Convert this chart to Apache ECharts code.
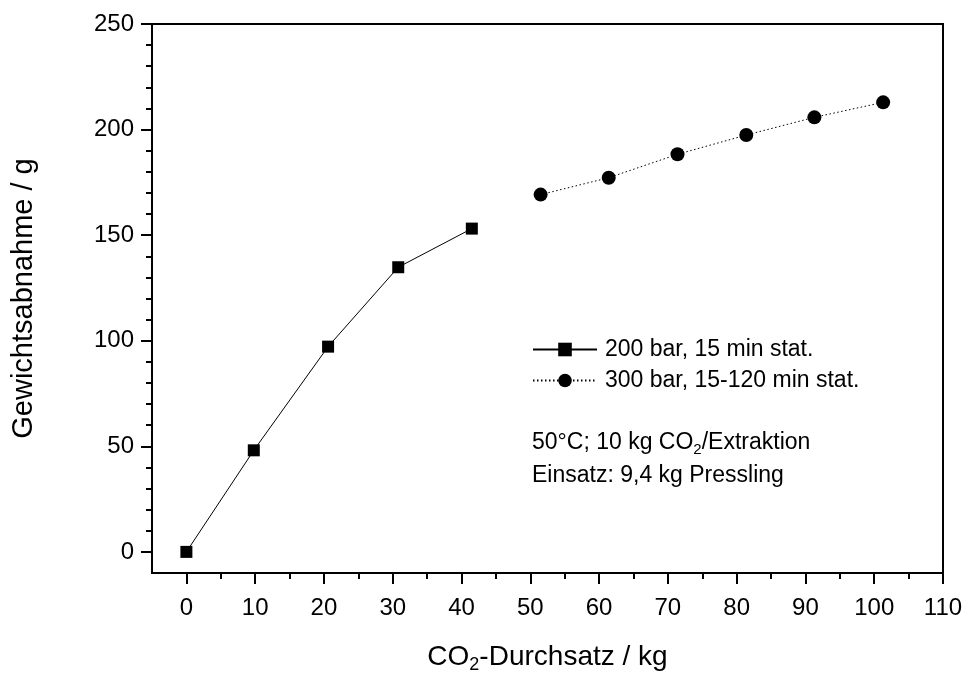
<!DOCTYPE html>
<html><head><meta charset="utf-8">
<script src="https://cdn.jsdelivr.net/npm/echarts@6/dist/echarts.min.js"></script>
<style>html,body{margin:0;padding:0;background:#fff}#c{width:969px;height:676px}</style>
</head><body><div id="c"></div>
<script>
const series200Name = '200 bar, 15 min stat.';
const series200X = [0, 9.8, 20.6, 30.8, 41.5];
const series200Y = [0, 48.1, 97.2, 134.8, 153.1];
const series300Name = '300 bar, 15-120 min stat.';
const series300X = [51.5, 61.4, 71.4, 81.4, 91.3, 101.3];
const series300Y = [169.2, 177.2, 188.3, 197.4, 205.8, 212.9];
const xMajorTicks = [0, 10, 20, 30, 40, 50, 60, 70, 80, 90, 100, 110];
const xMinorTicks = [5, 15, 25, 35, 45, 55, 65, 75, 85, 95, 105];
const yMajorTicks = [0, 50, 100, 150, 200, 250];
const yMinorTicks = [10, 20, 30, 40, 60, 70, 80, 90, 110, 120, 130, 140, 160, 170, 180, 190, 210, 220, 230, 240];
const noteLines = ['50°C; 10 kg CO', '2', '/Extraktion', 'Einsatz: 9,4 kg Pressling'];

const font = 'Liberation Sans, Arial, sans-serif';
const blackLine = {color: '#000', width: 2};
const chart = echarts.init(document.getElementById('c'));
chart.setOption({
  animation: false,
  backgroundColor: '#fff',
  grid: {left: 152, right: 26, top: 24, bottom: 103, outerBoundsMode: 'none', containLabel: false,
         show: true, borderColor: '#000', borderWidth: 2, backgroundColor: 'transparent'},
  legend: {
    left: 527, top: 333, orient: 'vertical', itemWidth: 64, itemHeight: 17, itemGap: 8,
    textStyle: {fontFamily: font, fontSize: 23, color: '#000', padding: [0,0,0,3]},
    data: [series200Name, series300Name]
  },
  xAxis: [{
    type: 'value', min: -5, max: 110, interval: 10,
    name: '{a|CO}{s|2}{a|-Durchsatz / kg}', nameLocation: 'middle', nameGap: 67,
    nameTextStyle: {fontFamily: font, color: '#000', rich: {
      a: {fontFamily: font, fontSize: 28, color: '#000', lineHeight: 34},
      s: {fontFamily: font, fontSize: 18, color: '#000', lineHeight: 34, padding: [16,0,0,0]}
    }},
    axisLine: {show: true, onZero: false, lineStyle: blackLine},
    axisTick: {show: true, length: 11, lineStyle: blackLine, customValues: xMajorTicks},
    axisLabel: {fontFamily: font, fontSize: 24, color: '#000', margin: 23, customValues: xMajorTicks},
    splitLine: {show: false}
  }, {
    type: 'value', min: -5, max: 110, position: 'bottom',
    axisLine: {show: false, onZero: false},
    axisTick: {show: true, length: 6, lineStyle: blackLine, customValues: xMinorTicks},
    axisLabel: {show: false},
    splitLine: {show: false}
  }],
  yAxis: [{
    type: 'value', min: -10, max: 250, interval: 10,
    name: 'Gewichtsabnahme / g', nameLocation: 'middle', nameGap: 114,
    nameTextStyle: {fontFamily: font, fontSize: 29, color: '#000'},
    axisLine: {show: true, onZero: false, lineStyle: blackLine},
    axisTick: {show: true, length: 11, lineStyle: blackLine, customValues: yMajorTicks},
    axisLabel: {fontFamily: font, fontSize: 24, color: '#000', margin: 18, customValues: yMajorTicks},
    splitLine: {show: false}
  }, {
    type: 'value', min: -10, max: 250, position: 'left',
    axisLine: {show: false, onZero: false},
    axisTick: {show: true, length: 6, lineStyle: blackLine, customValues: yMinorTicks},
    axisLabel: {show: false},
    splitLine: {show: false}
  }],
  graphic: [{
    type: 'text', left: 532, top: 428,
    style: {
      text: '{a|' + noteLines[0] + '}{s|' + noteLines[1] + '}{a|' + noteLines[2] + '}\n{a|' + noteLines[3] + '}',
      rich: {
        a: {fontFamily: font, fontSize: 23, fill: '#000', lineHeight: 33},
        s: {fontFamily: font, fontSize: 15, fill: '#000', lineHeight: 33, padding: [14,0,0,0]}
      }
    }
  }],
  series: [
    {name: series200Name, type: 'line', data: series200X.map((x,i)=>[x, series200Y[i]]),
     symbol: 'rect', symbolSize: 12, itemStyle: {color: '#000'}, lineStyle: {color: '#000', width: 1}},
    {name: series300Name, type: 'line', data: series300X.map((x,i)=>[x, series300Y[i]]),
     symbol: 'circle', symbolSize: 14, itemStyle: {color: '#000'}, lineStyle: {color: '#000', width: 1, type: [1.5, 2.5]}}
  ]
});
</script></body></html>
